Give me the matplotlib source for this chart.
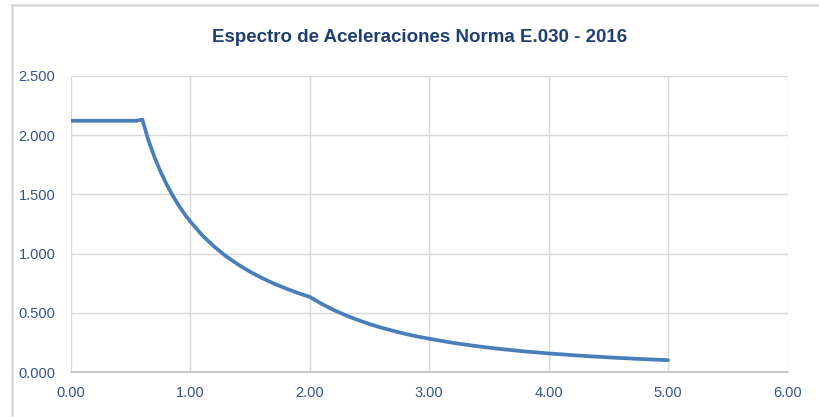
import matplotlib
matplotlib.use("Agg")
import matplotlib.pyplot as plt
from matplotlib.lines import Line2D

periodo_T = [0.00, 0.10, 0.20, 0.30, 0.40, 0.50, 0.55, 0.60, 0.65, 0.70, 0.75, 0.80,
             0.85, 0.90, 0.95, 1.00, 1.10, 1.20, 1.30, 1.40, 1.50, 1.60, 1.70, 1.80,
             1.90, 2.00, 2.10, 2.20, 2.30, 2.40, 2.50, 2.60, 2.70, 2.80, 2.90, 3.00,
             3.20, 3.40, 3.60, 3.80, 4.00, 4.25, 4.50, 4.75, 5.00]
aceleracion_Sa = [2.120, 2.120, 2.120, 2.120, 2.120, 2.120, 2.120, 2.130, 1.957, 1.817, 1.696, 1.590,
                  1.496, 1.413, 1.339, 1.272, 1.156, 1.060, 0.978, 0.909, 0.848, 0.795, 0.748, 0.707,
                  0.669, 0.636, 0.577, 0.526, 0.481, 0.442, 0.407, 0.376, 0.349, 0.324, 0.302, 0.283,
                  0.248, 0.220, 0.196, 0.176, 0.159, 0.141, 0.126, 0.113, 0.102]

x_ticks = [0, 1, 2, 3, 4, 5, 6]
x_labels = ["0.00", "1.00", "2.00", "3.00", "4.00", "5.00", "6.00"]
y_ticks = [0.0, 0.5, 1.0, 1.5, 2.0, 2.5]
y_labels = ["0.000", "0.500", "1.000", "1.500", "2.000", "2.500"]

titulo = "Espectro de Aceleraciones Norma E.030 - 2016"

fam = ["Liberation Sans Narrow", "Liberation Sans", "DejaVu Sans"]
plt.rcParams["font.family"] = fam

fig = plt.figure(figsize=(8.2, 4.17), dpi=100)
ax = fig.add_axes([0.0862, 0.1072, 0.9604 - 0.0862, 0.8185 - 0.1072])

ax.plot(periodo_T, aceleracion_Sa, color="#4A7EBB", linewidth=2.7,
        solid_joinstyle="round", solid_capstyle="round", zorder=3)

ax.set_xlim(0, 6)
ax.set_ylim(0, 2.5)
ax.set_xticks(x_ticks)
ax.set_xticklabels(x_labels)
ax.set_yticks(y_ticks)
ax.set_yticklabels(y_labels)
ax.tick_params(axis="both", length=0, labelsize=10.5, labelcolor="#34538A")
ax.tick_params(axis="y", pad=11)
ax.tick_params(axis="x", pad=10)
ax.grid(True, color="#D9D9D9", linewidth=1.0)
ax.set_axisbelow(True)
for s in ["left", "right", "top"]:
    ax.spines[s].set_visible(False)
ax.spines["bottom"].set_color("#BFBFBF")
ax.spines["bottom"].set_linewidth(1.2)
ax.spines["bottom"].set_zorder(4)

fig.text(420 / 820, 1 - 38 / 417, titulo, ha="center", va="center",
         fontsize=13.5, fontweight="bold", color="#1F3F73")

# outer chart frame (top and left edges visible)
fig.add_artist(Line2D([12 / 820, 1.0], [1 - 5 / 417, 1 - 5 / 417],
                      transform=fig.transFigure, color="#D9D9D9", linewidth=1.8))
fig.add_artist(Line2D([12 / 820, 12 / 820], [1 - 5 / 417, 1 - 415 / 417],
                      transform=fig.transFigure, color="#D9D9D9", linewidth=1.8))

fig.savefig("out.png", dpi=100)
